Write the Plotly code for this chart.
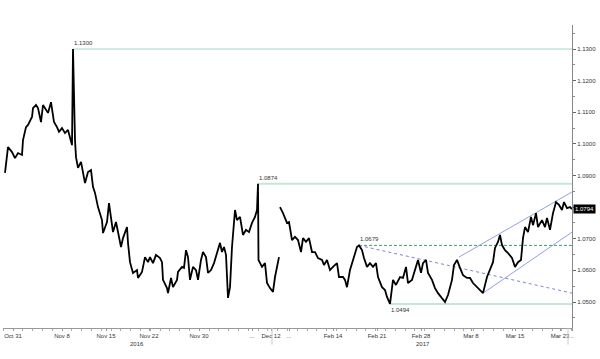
import plotly.graph_objects as go

# ---------------- data (bar number, price) ----------------
bars_a = [2, 5, 9, 12, 15, 19, 20, 23, 25, 29,
          30, 33, 35, 38, 40, 43, 45, 48, 50, 51,
          54, 56, 59, 62, 65, 67, 69, 70, 71, 72,
          73, 75, 78, 80, 82, 85, 88, 90, 92, 95,
          99, 100, 104, 106, 108, 110, 113, 115, 118, 120,
          124, 125, 127, 130, 134, 135, 139, 142, 145, 147,
          150, 153, 157, 159, 160, 164, 165, 168, 170, 174,
          175, 179, 181, 183, 185, 187, 190, 193, 195, 198,
          200, 203, 205, 208, 211, 214, 217, 219, 221, 223,
          225, 227, 229, 232, 234, 237, 240, 243, 246, 249,
          252, 254, 255, 255.5, 257, 259, 262, 264, 267, 270,
          272, 274, 276]
price_a = [1.0908, 1.0990, 1.0974, 1.0955, 1.0971, 1.0965, 1.1012, 1.1053, 1.1060, 1.1085,
           1.1113, 1.1123, 1.1113, 1.1069, 1.1123, 1.1107, 1.1098, 1.1132, 1.1098, 1.1069,
           1.1053, 1.1038, 1.1050, 1.1034, 1.1044, 1.1022, 1.0996, 1.1300, 1.1117, 1.1012,
           1.0958, 1.0924, 1.0943, 1.0911, 1.0876, 1.0911, 1.0917, 1.0864, 1.0845, 1.0800,
           1.0759, 1.0718, 1.0753, 1.0813, 1.0759, 1.0721, 1.0753, 1.0718, 1.0674, 1.0702,
           1.0737, 1.0687, 1.0626, 1.0592, 1.0601, 1.0576, 1.0595, 1.0642, 1.0626, 1.0642,
           1.0623, 1.0649, 1.0639, 1.0626, 1.0570, 1.0544, 1.0528, 1.0576, 1.0547, 1.0570,
           1.0595, 1.0611, 1.0608, 1.0664, 1.0642, 1.0570, 1.0611, 1.0601, 1.0570, 1.0633,
           1.0658, 1.0642, 1.0592, 1.0601, 1.0623, 1.0655, 1.0687, 1.0658, 1.0674, 1.0649,
           1.0513, 1.0547, 1.0674, 1.0791, 1.0759, 1.0769, 1.0712, 1.0728, 1.0721, 1.0750,
           1.0769, 1.0791, 1.0874, 1.0633, 1.0623, 1.0611, 1.0623, 1.0560, 1.0544, 1.0532,
           1.0579, 1.0617, 1.0642]

bars_b = [277, 280, 284, 286, 289, 292, 295, 298, 300, 303,
          306, 309, 312, 315, 319, 321, 324, 327, 330, 334,
          336, 340, 342, 344, 347, 350, 354, 356, 359, 361,
          364, 367, 370, 373, 375, 379, 382, 384, 387, 390,
          393, 397, 400, 403, 405, 409, 412, 415, 418, 420,
          423, 425, 429, 432, 435, 439, 442, 445, 449, 451,
          454, 457, 460, 464, 467, 470, 474, 477, 480, 484,
          487, 490, 492, 495, 497, 499, 502, 505, 509, 512,
          515, 518, 520, 522, 525, 528, 530, 533, 535, 539,
          542, 544, 547, 550, 553, 556, 559, 561, 564, 567,
          569]
price_b = [1.0800, 1.0781, 1.0750, 1.0753, 1.0696, 1.0706, 1.0696, 1.0658, 1.0702, 1.0690,
           1.0702, 1.0658, 1.0658, 1.0639, 1.0633, 1.0617, 1.0633, 1.0601, 1.0611, 1.0623,
           1.0579, 1.0579, 1.0570, 1.0547, 1.0601, 1.0633, 1.0674, 1.0679, 1.0664, 1.0639,
           1.0611, 1.0623, 1.0611, 1.0623, 1.0579, 1.0547, 1.0538, 1.0516, 1.0494, 1.0570,
           1.0554, 1.0579, 1.0576, 1.0611, 1.0560, 1.0570, 1.0601, 1.0633, 1.0592, 1.0623,
           1.0633, 1.0592, 1.0570, 1.0544, 1.0528, 1.0513, 1.0500, 1.0522, 1.0570, 1.0617,
           1.0633, 1.0608, 1.0585, 1.0576, 1.0576, 1.0560, 1.0547, 1.0538, 1.0528, 1.0579,
           1.0601, 1.0626, 1.0671, 1.0690, 1.0712, 1.0680, 1.0664, 1.0655, 1.0639, 1.0611,
           1.0626, 1.0633, 1.0702, 1.0737, 1.0721, 1.0769, 1.0743, 1.0781, 1.0737, 1.0759,
           1.0737, 1.0766, 1.0728, 1.0781, 1.0816, 1.0807, 1.0791, 1.0816, 1.0797, 1.0800,
           1.0794]

last_bar = 569
last_price = 1.0794

# horizontal levels: (price, first bar, label)
level_high = (1.1300, 70, "1.1300")
level_dec = (1.0874, 255, "1.0874")
level_low = (1.0494, 387, "1.0494")
level_feb = (1.0679, 356, "1.0679")

# trend lines
trend_down_bars = [356, 569]
trend_down_price = [1.0679, 1.0528]
chan_up_bars = [456, 569]
chan_up_price = [1.0642, 1.0848]
chan_lo_bars = [480, 569]
chan_lo_price = [1.0528, 1.0721]

# axes
x_tick_bars = [10, 59, 103, 146, 196, 249, 268, 286, 330, 374, 418, 468, 512, 557, 569]
x_tick_text = ["Oct 31", "Nov 8", "Nov 15", "Nov 22", "Nov 30", "...", "Dec 12", "...",
               "Feb 14", "Feb 21", "Feb 28", "Mar 8", "Mar 15", "Mar 23", ".."]
year_labels = [(134, "2016"), (420, "2017")]
separator_bars = [269, 565]
y_ticks = [1.05, 1.06, 1.07, 1.08, 1.09, 1.10, 1.11, 1.12, 1.13]
y_hidden = [1.08]  # covered by the last-price box

FONT = "Liberation Sans"
TXT = "#333333"

fig = go.Figure()

# levels
for lv, col, w, dash in [(level_high, "#a6d8c4", 1, "solid"),
                          (level_dec, "#c4e8d5", 2, "solid"),
                          (level_low, "#c4e8d5", 2, "solid"),
                          (level_feb, "#3f9f6c", 1, "3px,2px")]:
    fig.add_trace(go.Scatter(x=[lv[1], last_bar], y=[lv[0], lv[0]], mode="lines",
                             line=dict(color=col, width=w, dash=dash),
                             hoverinfo="skip", showlegend=False))

fig.add_trace(go.Scatter(x=trend_down_bars, y=trend_down_price, mode="lines",
                         line=dict(color="#7a84d6", width=1, dash="3px,3px"),
                         hoverinfo="skip", showlegend=False))
for bx, py in [(chan_up_bars, chan_up_price), (chan_lo_bars, chan_lo_price)]:
    fig.add_trace(go.Scatter(x=bx, y=py, mode="lines",
                             line=dict(color="#93a0e2", width=1),
                             hoverinfo="skip", showlegend=False))

# price line (gap between segments)
fig.add_trace(go.Scatter(x=bars_a + [None] + bars_b, y=price_a + [None] + price_b,
                         mode="lines", line=dict(color="black", width=1.8),
                         connectgaps=False, showlegend=False))

# level labels
for lv, anchor in [(level_high, "bottom"), (level_dec, "bottom"),
                   (level_feb, "bottom"), (level_low, "top")]:
    fig.add_annotation(x=lv[1], y=lv[0], text=lv[2], showarrow=False,
                       xanchor="left", yanchor=anchor, xshift=-1,
                       yshift=1 if anchor == "bottom" else -1,
                       font=dict(family=FONT, size=6, color=TXT))

# last price box
fig.add_annotation(xref="paper", x=1, y=last_price, text=f"{last_price:.4f}",
                   showarrow=False, xanchor="left", yanchor="middle", xshift=1,
                   bgcolor="black", borderpad=1,
                   font=dict(family=FONT, size=6, color="white"))

# year labels
for bx, txt in year_labels:
    fig.add_annotation(x=bx, yref="paper", y=0, text=txt, showarrow=False,
                       xanchor="center", yanchor="top", yshift=-11,
                       font=dict(family=FONT, size=6, color=TXT))

# separators below axis
for bx in separator_bars:
    fig.add_shape(type="line", x0=bx, x1=bx, yref="paper", y0=0, y1=-0.055,
                  line=dict(color="#c8c8c8", width=1))

fig.update_layout(
    width=600, height=359,
    margin=dict(l=3, r=28, t=25, b=31, autoexpand=False),
    paper_bgcolor="white", plot_bgcolor="white",
    showlegend=False,
    font=dict(family=FONT, size=6, color=TXT),
    xaxis=dict(range=[0, last_bar], showgrid=False, zeroline=False,
               showline=True, linecolor="#999999", linewidth=1,
               tickmode="array", tickvals=x_tick_bars, ticktext=x_tick_text,
               tickangle=0, automargin=False,
               ticks="outside", ticklen=2, tickcolor="#999999",
               tickfont=dict(family=FONT, size=6, color=TXT),
               minor=dict(tick0=10, dtick=9.8, ticks="outside", ticklen=2,
                          tickcolor="#aaaaaa")),
    yaxis=dict(range=[1.04178, 1.13759], side="right", showgrid=False, zeroline=False,
               showline=True, linecolor="#888888", linewidth=1, automargin=False,
               tickmode="array", tickvals=y_ticks,
               ticktext=["" if v in y_hidden else f"{v:.4f}" for v in y_ticks],
               ticks="outside", ticklen=3, tickcolor="#666666",
               tickfont=dict(family=FONT, size=6, color=TXT),
               minor=dict(tick0=1.045, dtick=0.01, ticks="outside", ticklen=2,
                          tickcolor="#888888")),
)

fig.write_html("out.html", config={"displayModeBar": False},
               post_script="document.body.style.margin='0px';")
